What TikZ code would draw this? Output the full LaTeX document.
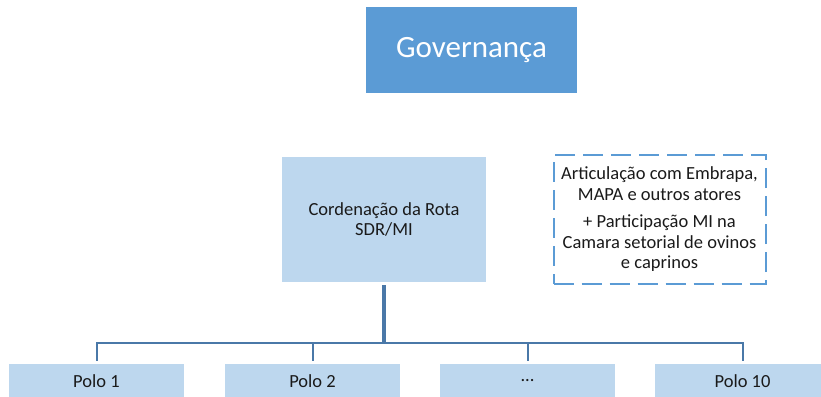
\documentclass[tikz,border=0pt]{standalone}
\usepackage{fontspec}
\setmainfont{Carlito}
\definecolor{govblue}{HTML}{5B9BD5}
\definecolor{lightblue}{HTML}{BDD7EE}
\definecolor{linkblue}{HTML}{4A78A8}
\definecolor{txt}{HTML}{1A1A1A}
\begin{document}
\begin{tikzpicture}[x=1pt,y=-1pt,
  govbox/.style={fill=govblue, draw=none, text=white, font=\fontsize{31}{36}\selectfont, minimum width=211pt, minimum height=86pt, inner sep=0pt},
  lightbox/.style={fill=lightblue, draw=none, text=txt, font=\fontsize{18.5}{20.5}\selectfont, align=center, inner sep=0pt},
  polobox/.style={lightbox, minimum width=175pt, minimum height=34pt},
  notebox/.style={draw=govblue, line width=2pt, dash pattern=on 20pt off 8pt, fill=white, text=txt, font=\fontsize{18.5}{20.5}\selectfont, align=center, minimum width=212pt, minimum height=129pt, inner sep=0pt},
  conn/.style={draw=linkblue, line width=2pt},
  stem/.style={draw=linkblue, line width=3.5pt}]
\useasboundingbox (0,0) rectangle (821,396);

\node[govbox] (gov) at (471.5,50) {Governança};
\node[lightbox, minimum width=204pt, minimum height=125pt] (coord) at (384,219.5) {Cordenação da Rota\\SDR/MI};
\node[notebox] (note) at (659.5,219.5) {Articulação com Embrapa,\\MAPA e outros atores\\[7pt]+ Participação MI na\\Camara setorial de ovinos\\e caprinos};

\node[polobox] (p1) at (96.5,381) {Polo 1};
\node[polobox] (p2) at (312.5,381) {Polo 2};
\node[polobox] (p3) at (527.5,381) {...};
\node[polobox] (p10) at (742.5,381) {Polo 10};

\coordinate (bus) at (384,343);

\draw[stem] ([yshift=-3pt]coord.south) -- (coord.south |- bus);
\draw[conn] ([yshift=3pt]p1.north) |- (bus) -| ([yshift=3pt]p10.north);
\draw[conn] ([yshift=3pt]p2.north) -- (p2.north |- bus);
\draw[conn] ([yshift=3pt]p3.north) -- (p3.north |- bus);
\end{tikzpicture}
\end{document}
